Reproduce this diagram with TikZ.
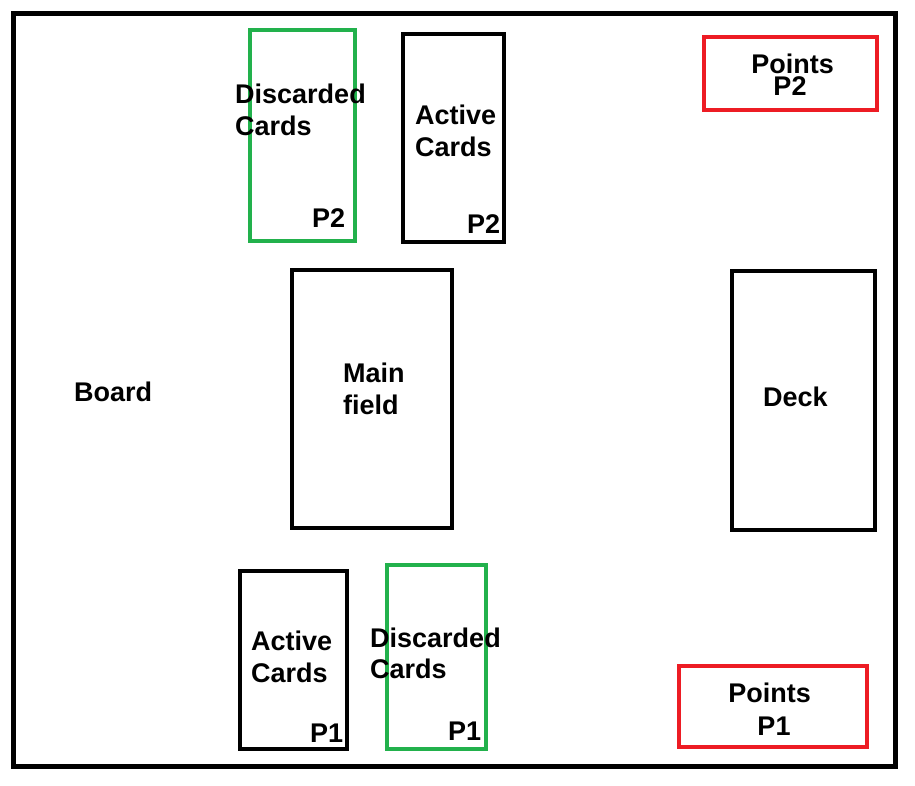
\documentclass[tikz,border=0pt]{standalone}
\usepackage{fontspec}
\setmainfont{Liberation Sans}
\definecolor{cgreen}{RGB}{34,177,76}
\definecolor{cred}{RGB}{237,28,36}
\begin{document}
\begin{tikzpicture}[x=1pt,y=-1pt,
  box/.style={draw=black, line width=4pt, inner sep=0pt},
  gbox/.style={box, draw=cgreen},
  rbox/.style={box, draw=cred},
  lbl/.style={inner sep=0pt, font=\fontsize{27}{32}\selectfont\bfseries},
  lw/.style={lbl, anchor=base west},
  lc/.style={lbl, anchor=base}]
\useasboundingbox (0,0) rectangle (915,785);
\node[draw=black, line width=5pt, inner sep=0pt, minimum width=882pt, minimum height=753pt] (board) at (454.5,390) {};
\node[gbox, minimum width=105pt, minimum height=211pt] (discP2) at (302.5,135.5) {};
\node[box, minimum width=101pt, minimum height=208pt] (actP2) at (453.5,138) {};
\node[rbox, minimum width=173pt, minimum height=73pt] (ptsP2) at (790.5,73.5) {};
\node[box, minimum width=160pt, minimum height=258pt] (main) at (372,399) {};
\node[box, minimum width=143pt, minimum height=259pt] (deck) at (803.5,400.5) {};
\node[box, minimum width=107pt, minimum height=178pt] (actP1) at (293.5,660) {};
\node[gbox, minimum width=99pt, minimum height=184pt] (discP1) at (436.5,657) {};
\node[rbox, minimum width=188pt, minimum height=81pt] (ptsP1) at (773,706.5) {};
% texts
\node[lw] (tdP2a) at (235,103) {Discarded};
\node[lw] (tdP2b) at (235,135) {Cards};
\node[lw] (tdP2c) at (312,227) {P2};
\node[lw] (taP2a) at (415,124) {Active};
\node[lw] (taP2b) at (415,156) {Cards};
\node[lw] (taP2c) at (467,233) {P2};
\node[lc] (tpP2a) at (792.5,73) {Points};
\node[lc] (tpP2b) at (790,95) {P2};
\node[lw] (tmain) at (343,382) {Main};
\node[lw] (tfield) at (343,414) {field};
\node[lw] (tboard) at (74,401) {Board};
\node[lw] (tdeck) at (763,406) {Deck};
\node[lw] (taP1a) at (251,650) {Active};
\node[lw] (taP1b) at (251,682) {Cards};
\node[lw] (taP1c) at (310,742) {P1};
\node[lw] (tdP1a) at (370,647) {Discarded};
\node[lw] (tdP1b) at (370,678) {Cards};
\node[lw] (tdP1c) at (448,740) {P1};
\node[lc] (tpP1a) at (769.5,702) {Points};
\node[lc] (tpP1b) at (774,735) {P1};
\end{tikzpicture}
\end{document}
